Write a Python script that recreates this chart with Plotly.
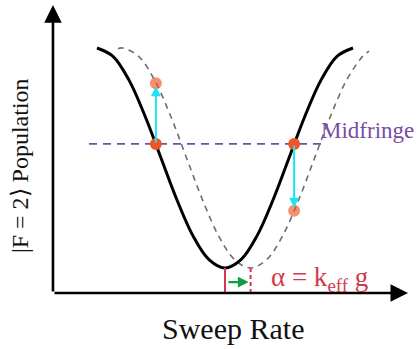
import plotly.graph_objects as go

# Sweep rate in fringe units (one full fringe = 2 units); population normalised 0..1
sweep_solid = [0, 0.125, 0.25, 0.375, 0.5, 0.625, 0.75, 0.875, 1.0,
               1.125, 1.25, 1.375, 1.5, 1.625, 1.75, 1.875, 2.0]
pop_solid = [1.0, 0.962, 0.854, 0.691, 0.5, 0.309, 0.146, 0.038, 0.0,
             0.038, 0.146, 0.309, 0.5, 0.691, 0.854, 0.962, 1.0]

sweep_shift = [0.164, 0.2, 0.325, 0.45, 0.575, 0.7, 0.825, 0.95, 1.075,
               1.2, 1.325, 1.45, 1.575, 1.7, 1.825, 1.95, 2.075, 2.125]
pop_shift = [0.997, 1.0, 0.962, 0.854, 0.691, 0.5, 0.309, 0.146, 0.038,
             0.0, 0.038, 0.146, 0.309, 0.5, 0.691, 0.854, 0.962, 0.986]

midfringe_level = 0.564
midfringe_span = [-0.0625, 1.797]

probe_sweep = [0.46, 1.54]
probe_pop_mid = [0.564, 0.564]
probe_pop_shift = [0.84, 0.26]

fringe_min_solid = 1.0
fringe_min_shift = 1.2

axis_origin = (-0.344, -0.1136)
axis_x_tip = 2.43
axis_y_tip = 1.195

RED = "#D03A4A"
PURPLE = "#7A4BA3"
CYAN = "#1FE3F2"
ORANGE = "#EE5625"
GREEN = "#129B48"
FONT = "Liberation Serif"

fig = go.Figure()

# midfringe reference line
fig.add_trace(go.Scatter(x=midfringe_span, y=[midfringe_level] * 2, mode="lines",
                         line=dict(color=PURPLE, width=1.8, dash="8px,6px"),
                         hoverinfo="skip"))

# shifted fringe
fig.add_trace(go.Scatter(x=sweep_shift, y=pop_shift, mode="lines",
                         line=dict(color="#6E6E6E", width=1.6, dash="6px,5px",
                                   shape="spline", smoothing=1),
                         hoverinfo="skip"))

# unshifted fringe
fig.add_trace(go.Scatter(x=sweep_solid, y=pop_solid, mode="lines",
                         line=dict(color="black", width=3, shape="spline", smoothing=1),
                         hoverinfo="skip"))

# fringe minimum markers
y_axis_level = axis_origin[1]
fig.add_trace(go.Scatter(x=[fringe_min_solid] * 2, y=[0.0, y_axis_level], mode="lines",
                         line=dict(color=RED, width=2), hoverinfo="skip"))
fig.add_trace(go.Scatter(x=[fringe_min_shift] * 2, y=[0.0, y_axis_level], mode="lines",
                         line=dict(color=RED, width=2, dash="4px,3px"), hoverinfo="skip"))

# probe points
fig.add_trace(go.Scatter(x=probe_sweep, y=probe_pop_shift, mode="markers",
                         marker=dict(color=ORANGE, opacity=0.65, size=12, line=dict(width=0)),
                         hoverinfo="skip"))
fig.add_trace(go.Scatter(x=probe_sweep, y=probe_pop_mid, mode="markers",
                         marker=dict(color=ORANGE, size=12, line=dict(width=0)),
                         hoverinfo="skip"))

annotations = []

# axes with arrowheads
annotations.append(dict(x=axis_x_tip, y=axis_origin[1], ax=axis_origin[0], ay=axis_origin[1],
                        xref="x", yref="y", axref="x", ayref="y", text="", showarrow=True,
                        arrowhead=2, arrowwidth=2.6, arrowsize=1.35, arrowcolor="black",
                        standoff=0, startstandoff=0))
annotations.append(dict(x=axis_origin[0], y=axis_y_tip, ax=axis_origin[0], ay=axis_origin[1],
                        xref="x", yref="y", axref="x", ayref="y", text="", showarrow=True,
                        arrowhead=2, arrowwidth=2.6, arrowsize=1.35, arrowcolor="black",
                        standoff=0, startstandoff=0))

# population change arrows
for xs, y0, y1 in zip(probe_sweep, probe_pop_mid, probe_pop_shift):
    annotations.append(dict(x=xs, y=y1, ax=xs, ay=y0, xref="x", yref="y", axref="x", ayref="y",
                            text="", showarrow=True, arrowhead=2, arrowwidth=2,
                            arrowsize=1, arrowcolor=CYAN, standoff=3, startstandoff=0))

# shift arrow
annotations.append(dict(x=fringe_min_shift - 0.015, y=-0.064, ax=fringe_min_solid + 0.015, ay=-0.064,
                        xref="x", yref="y", axref="x", ayref="y", text="", showarrow=True,
                        arrowhead=2, arrowwidth=2.4, arrowsize=0.9, arrowcolor=GREEN,
                        standoff=0, startstandoff=0))

# labels
annotations.append(dict(x=1.735, y=0.627, xref="x", yref="y", text="Midfringe",
                        showarrow=False, xanchor="left", yanchor="middle",
                        font=dict(family=FONT, size=23, color=PURPLE)))
annotations.append(dict(x=1.742, y=-0.05, xref="x", yref="y",
                        text="α = k<sub>eff</sub> g", showarrow=False,
                        xanchor="center", yanchor="middle",
                        font=dict(family=FONT, size=27, color=RED)))
annotations.append(dict(x=1.0625, y=-0.273, xref="x", yref="y", text="Sweep Rate",
                        showarrow=False, xanchor="center", yanchor="middle",
                        font=dict(family=FONT, size=30, color="#111111")))
annotations.append(dict(x=-0.60, y=0.464, xref="x", yref="y", text="|F = 2⟩ Population",
                        showarrow=False, textangle=-90, xanchor="center", yanchor="middle",
                        font=dict(family=FONT, size=24, color="#111111")))

fig.update_layout(
    width=419, height=349,
    margin=dict(l=0, r=0, t=0, b=0),
    paper_bgcolor="white", plot_bgcolor="white",
    showlegend=False,
    xaxis=dict(range=[-0.7578, 2.5156], visible=False, fixedrange=True),
    yaxis=dict(range=[-0.3682, 1.2182], visible=False, fixedrange=True),
    annotations=annotations,
)

fig.write_html("out.html")
